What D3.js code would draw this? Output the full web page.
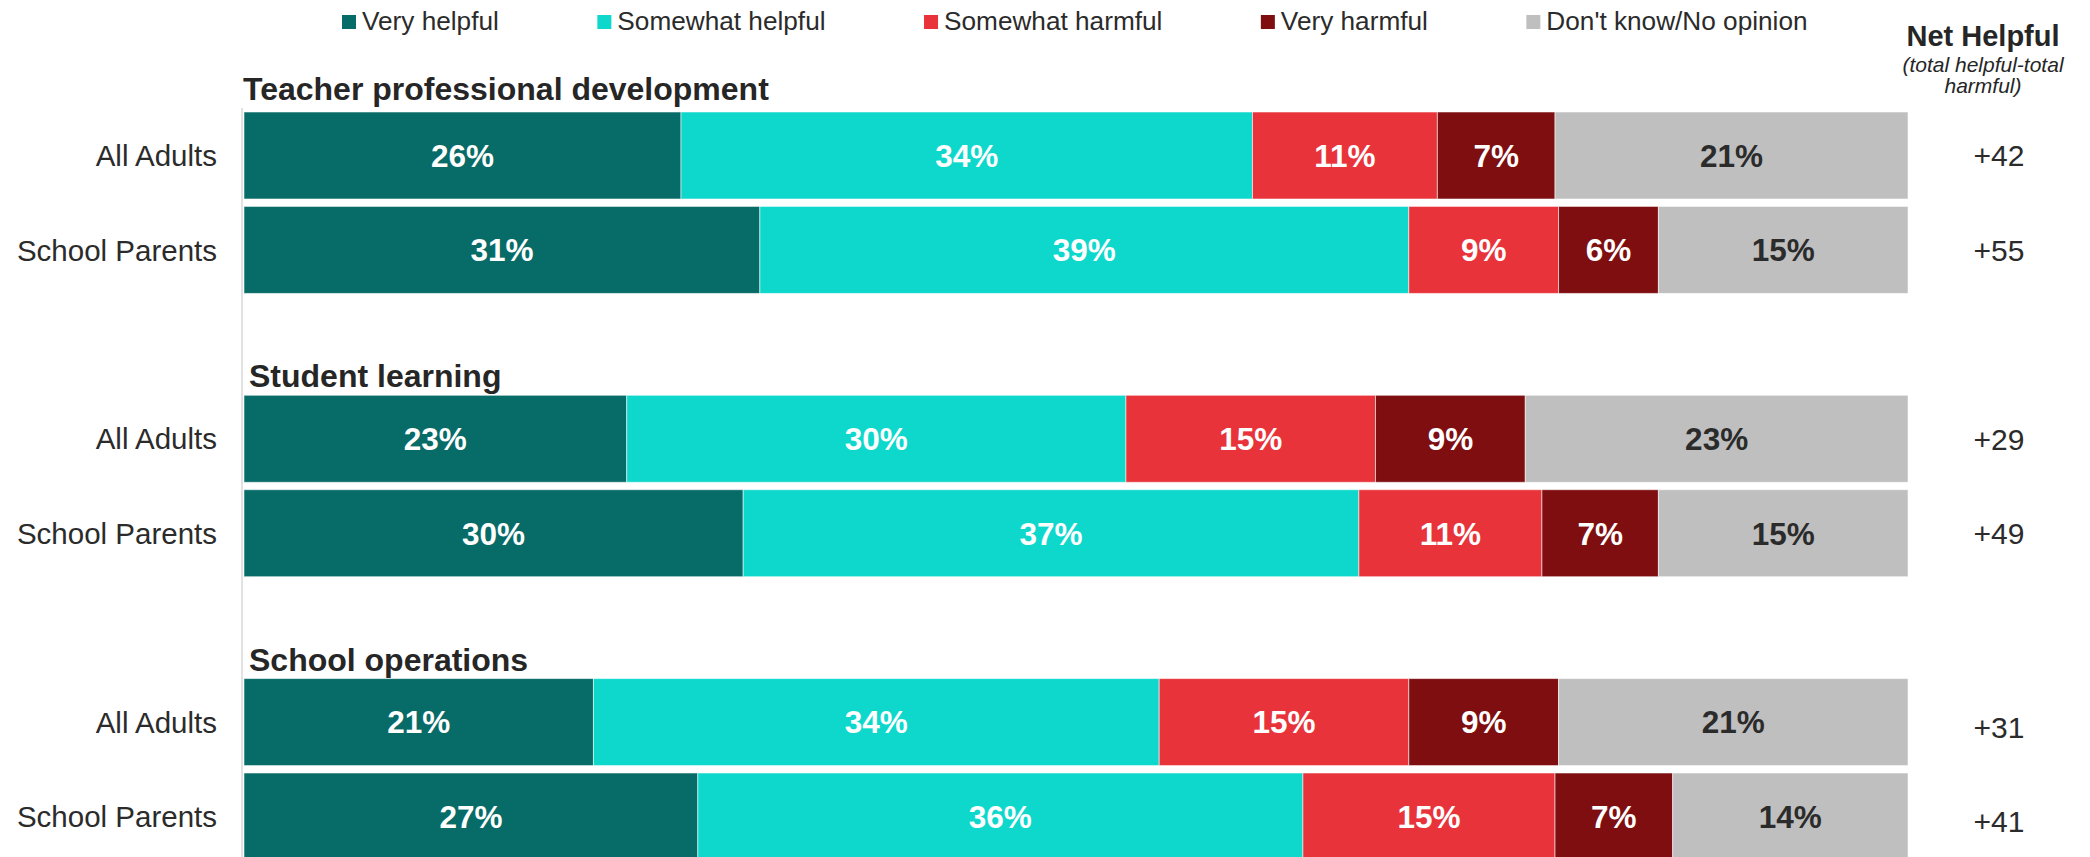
<!DOCTYPE html>
<html>
<head>
<meta charset="utf-8">
<script src="https://cdn.jsdelivr.net/npm/d3@7/dist/d3.min.js"></script>
<style>
  html, body { margin: 0; padding: 0; background: #fff; }
  svg { display: block; font-family: "Liberation Sans", Arial, sans-serif; }
</style>
</head>
<body>
<svg id="chart" width="2090" height="857"></svg>
<script>
// ---- Data ----
const groups = ["Teacher professional development", "Student learning", "School operations"];
const audiences = ["All Adults", "School Parents"];
const seriesNames = ["Very helpful", "Somewhat helpful", "Somewhat harmful", "Very harmful", "Don't know/No opinion"];
const seriesColors = ["#076b67", "#0ed8cc", "#e8333a", "#7e0e10", "#bfbfbf"];
const veryHelpful     = [26, 31, 23, 30, 21, 27];
const somewhatHelpful = [34, 39, 30, 37, 34, 36];
const somewhatHarmful = [11, 9, 15, 11, 15, 15];
const veryHarmful     = [7, 6, 9, 7, 9, 7];
const dontKnow        = [21, 15, 23, 15, 21, 14];
const netHelpful      = ["+42", "+55", "+29", "+49", "+31", "+41"];
const netTitle = "Net Helpful";
const netSubtitle = ["(total helpful-total", "harmful)"];

// ---- Build rows ----
const seriesArrays = [veryHelpful, somewhatHelpful, somewhatHarmful, veryHarmful, dontKnow];
const rows = [];
groups.forEach((g, gi) => {
  audiences.forEach((a, ai) => {
    const i = gi * audiences.length + ai;
    const r = { key: g + "|" + a, group: g, audience: a, net: netHelpful[i], first: ai === 0, gi };
    seriesNames.forEach((s, si) => r[s] = seriesArrays[si][i]);
    rows.push(r);
  });
});
// slot domain with a spacer between groups
const slots = [];
groups.forEach((g, gi) => {
  if (gi > 0) slots.push("spacer" + gi);
  audiences.forEach(a => slots.push(g + "|" + a));
});

const svg = d3.select("#chart");
const W = 2090, H = 857;

const x = d3.scaleLinear().domain([0, 1]).range([244, 1908]);
const y = d3.scaleBand().domain(slots).range([112, 860]).paddingInner(0.0787).paddingOuter(0);
const color = d3.scaleOrdinal().domain(seriesNames).range(seriesColors);

const stack = d3.stack().keys(seriesNames).offset(d3.stackOffsetExpand);
const stacked = stack(rows);

// axis line
svg.append("line")
  .attr("x1", 242).attr("x2", 242)
  .attr("y1", y(slots[0]) - 4).attr("y2", H)
  .attr("stroke", "#d9d9d9").attr("stroke-width", 1.5);

// bars
const layer = svg.append("g").selectAll("g").data(stacked).join("g")
  .attr("fill", d => color(d.key));
layer.selectAll("rect").data(d => d.map(v => ({ v, key: d.key }))).join("rect")
  .attr("x", d => x(d.v[0]))
  .attr("width", d => x(d.v[1]) - x(d.v[0]))
  .attr("y", d => y(d.v.data.key))
  .attr("height", y.bandwidth())
  .attr("stroke", "rgba(255,255,255,0.55)")
  .attr("stroke-width", 1);

// bar labels
const lblLayer = svg.append("g").selectAll("g").data(stacked).join("g");
lblLayer.selectAll("text").data(d => d.map(v => ({ v, key: d.key }))).join("text")
  .attr("x", d => (x(d.v[0]) + x(d.v[1])) / 2)
  .attr("y", d => y(d.v.data.key) + y.bandwidth() / 2)
  .attr("dy", "0.36em")
  .attr("text-anchor", "middle")
  .attr("font-size", 31.5)
  .attr("font-weight", "bold")
  .attr("fill", d => d.key === seriesNames[4] ? "#2b2b2b" : "#ffffff")
  .text(d => d.v.data[d.key] + "%");

// row labels
svg.append("g").selectAll("text").data(rows).join("text")
  .attr("x", 217)
  .attr("y", d => y(d.key) + y.bandwidth() / 2)
  .attr("dy", "0.36em")
  .attr("text-anchor", "end")
  .attr("font-size", 29.5)
  .attr("fill", "#2b2b2b")
  .text(d => d.audience);

// group titles
svg.append("g").selectAll("text").data(rows.filter(r => r.first)).join("text")
  .attr("x", (d, i) => i === 0 ? 243 : 249)
  .attr("y", (d, i) => y(d.key) - (i === 0 ? 12 : 8))
  .attr("font-size", 32)
  .attr("font-weight", "bold")
  .attr("fill", "#262626")
  .text(d => d.group);

// net helpful values
svg.append("g").selectAll("text").data(rows).join("text")
  .attr("x", 1999)
  .attr("y", d => y(d.key) + y.bandwidth() / 2 + (d.gi === 2 ? 5 : 0))
  .attr("dy", "0.36em")
  .attr("text-anchor", "middle")
  .attr("font-size", 30)
  .attr("fill", "#2b2b2b")
  .text(d => d.net);

// net helpful header
svg.append("text")
  .attr("x", 1983).attr("y", 46)
  .attr("text-anchor", "middle")
  .attr("font-size", 29)
  .attr("font-weight", "bold")
  .attr("fill", "#262626")
  .text(netTitle);
svg.append("g").selectAll("text").data(netSubtitle).join("text")
  .attr("x", 1983)
  .attr("y", (d, i) => 72 + i * 21)
  .attr("text-anchor", "middle")
  .attr("font-size", 21)
  .attr("font-style", "italic")
  .attr("fill", "#262626")
  .text(d => d);

// legend (flowing)
const legend = svg.append("g");
let lx = 342;
seriesNames.forEach(s => {
  const g = legend.append("g").attr("transform", `translate(${lx},0)`);
  g.append("rect").attr("x", 0).attr("y", 15).attr("width", 14).attr("height", 14).attr("fill", color(s));
  const t = g.append("text").attr("x", 20).attr("y", 29.5)
    .attr("font-size", 26.2).attr("fill", "#2b2b2b").text(s);
  lx += 20 + t.node().getComputedTextLength() + 98.5;
});
</script>
</body>
</html>
